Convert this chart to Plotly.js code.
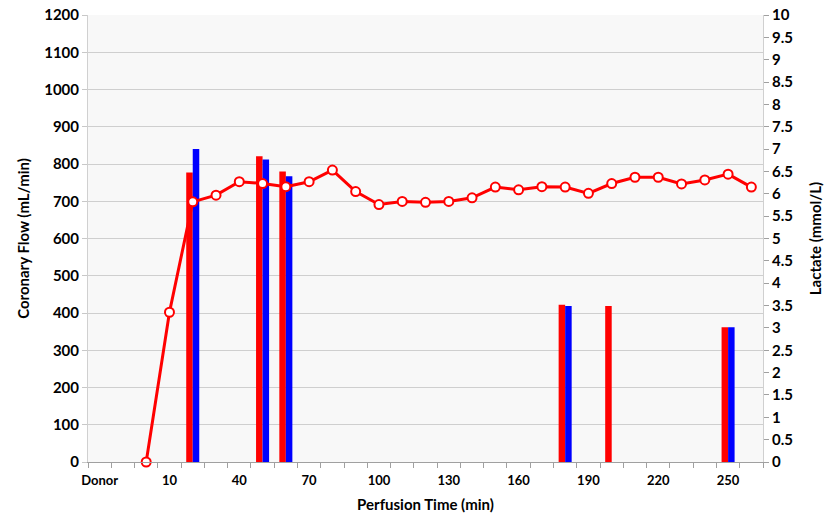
<!DOCTYPE html>
<html>
<head>
<meta charset="utf-8">
<script src="https://cdn.plot.ly/plotly-3.0.1.min.js"></script>
<style>html,body{margin:0;padding:0;background:#fff;}#chart{width:828px;height:516px;}</style>
</head>
<body>
<div id="chart"></div>
<script>
// Categories along the perfusion time axis
const categories = ["Donor", "Baseline", "0", "10", "20", "30", "40", "50", "60", "70", "80", "90", "100",
  "110", "120", "130", "140", "150", "160", "170", "180", "190", "200", "210", "220", "230", "240", "250", "260"];
// Tick labels shown (every third category)
const shownLabels = ["Donor", "10", "40", "70", "100", "130", "160", "190", "220", "250"];

// Coronary flow (mL/min) - red bars
const flowRed = [null, null, null, null, 777, null, null, 821, 780, null, null, null, null,
  null, null, null, null, null, null, null, 422, null, 419, null, null, null, null, 362, null];
// Coronary flow (mL/min) - blue bars
const flowBlue = [null, null, null, null, 840, null, null, 812, 767, null, null, null, null,
  null, null, null, null, null, null, null, 419, null, null, null, null, null, null, 362, null];
// Lactate (mmol/L) - red line
const lactate = [null, null, 0, 3.35, 5.82, 5.97, 6.27, 6.23, 6.16, 6.27, 6.53, 6.05, 5.76,
  5.83, 5.81, 5.83, 5.91, 6.15, 6.09, 6.16, 6.15, 6.01, 6.23, 6.37, 6.37, 6.22, 6.31, 6.44, 6.15];

const tickText = categories.map(c => shownLabels.includes(c) ? c : "");

const FONT = "Lato, 'Open Sans', 'Liberation Sans', sans-serif";

const traces = [
  {type: "bar", x: categories, y: flowRed, name: "Flow A", marker: {color: "#ff0000"}, yaxis: "y"},
  {type: "bar", x: categories, y: flowBlue, name: "Flow B", marker: {color: "#0000ff"}, yaxis: "y"},
  {type: "scatter", mode: "lines+markers", x: categories, y: lactate, name: "Lactate", yaxis: "y2",
   connectgaps: false,
   line: {color: "#ff0000", width: 3},
   marker: {symbol: "circle", size: 9, color: "#ffffff", line: {color: "#ff0000", width: 2}},
   cliponaxis: false}
];

const layout = {
  width: 828, height: 516,
  margin: {l: 88, r: 65, t: 15, b: 54},
  paper_bgcolor: "#ffffff",
  plot_bgcolor: "#f8f8f8",
  showlegend: false,
  barmode: "group",
  bargap: 0.44,
  bargroupgap: 0,
  font: {family: FONT, color: "#000", size: 12},
  xaxis: {
    type: "category",
    categoryorder: "array", categoryarray: categories,
    range: [-0.5, categories.length - 0.5], autorange: false,
    tickmode: "array", tickvals: categories, ticktext: tickText,
    tickangle: 0,
    tickson: "boundaries",
    ticks: "outside", ticklen: 5, tickcolor: "#a0a0a0", tickwidth: 1,
    ticklabelstandoff: 6,
    showline: true, linecolor: "#a0a0a0", linewidth: 1,
    showgrid: false, zeroline: false,
    tickfont: {family: FONT, size: 13, color: "#000", weight: "bold"},
    title: {text: "Perfusion Time (min)", font: {family: FONT, size: 15, color: "#000", weight: "bold"}, standoff: 12}
  },
  yaxis: {
    range: [0, 1200], dtick: 100, tick0: 0,
    ticks: "outside", ticklen: 5, tickcolor: "#c8c8c8",
    showline: true, linecolor: "#d0d0d0", linewidth: 1,
    showgrid: true, gridcolor: "#cfcfcf", gridwidth: 1,
    zeroline: false,
    tickfont: {family: FONT, size: 15, color: "#000", weight: "bold"},
    title: {text: "Coronary Flow (mL/min)", font: {family: FONT, size: 15, color: "#000", weight: "bold"}, standoff: 10}
  },
  yaxis2: {
    overlaying: "y", side: "right",
    range: [0, 10], dtick: 0.5, tick0: 0,
    ticks: "outside", ticklen: 5, tickcolor: "#a0a0a0",
    showline: true, linecolor: "#d0d0d0", linewidth: 1,
    showgrid: false, zeroline: false,
    tickfont: {family: FONT, size: 15, color: "#000", weight: "bold"},
    title: {text: "Lactate (mmol/L)", font: {family: FONT, size: 15, color: "#000", weight: "bold"}, standoff: 18}
  }
};

Plotly.newPlot("chart", traces, layout, {displayModeBar: false, staticPlot: true});
</script>
</body>
</html>
